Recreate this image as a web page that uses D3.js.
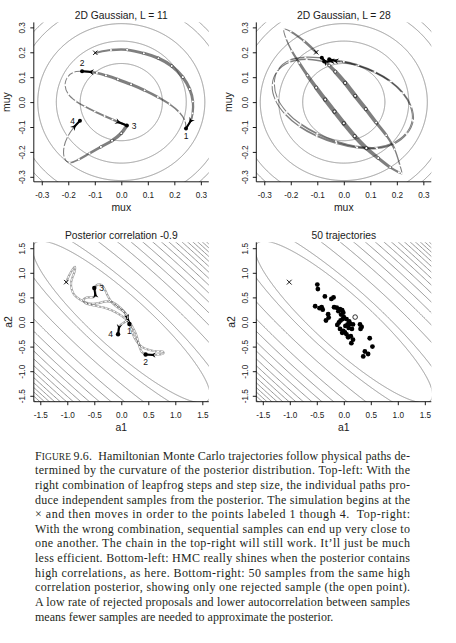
<!DOCTYPE html>
<html>
<head>
<meta charset="utf-8">
<script src="https://cdn.jsdelivr.net/npm/d3@7"></script>
<style>
  body { margin: 0; background: #fff; }
  svg { display: block; }
</style>
</head>
<body>
<svg id="fig" width="456" height="643"></svg>
<script>
// ---- data ----

var gaussTicks = [-0.3, -0.2, -0.1, 0.0, 0.1, 0.2, 0.3];
var corrTicks = [-1.5, -1.0, -0.5, 0.0, 0.5, 1.0, 1.5];

var titles = ["2D Gaussian, L = 11", "2D Gaussian, L = 28", "Posterior correlation -0.9", "50 trajectories"];

// radii of the contour circles in the top panels
var gaussRadii = [0.155, 0.245, 0.315, 0.40, 0.435];

// correlated posterior in the bottom panels: contour levels of the quadratic form
var corrRho = -0.9;
var corrLevels = [2.7, 4.3, 8.4, 12.9, 16.9, 20.9, 24.7, 28.3, 31.6, 34.8, 37.9, 40.8, 43.6, 46.3, 48.9, 51.4];

// top-left trajectories: [mux, muy, kinetic energy]
var tlPath1 = [[-0.098, 0.198, 0.5], [-0.039, 0.209, 0.7], [0.022, 0.210, 0.9], [0.085, 0.196, 1.05], [0.140, 0.176, 1.15], [0.190, 0.145, 1.2],
  [0.232, 0.100, 1.1], [0.258, 0.052, 0.9], [0.270, 0.002, 0.65], [0.269, -0.045, 0.45], [0.262, -0.075, 0.3], [0.244, -0.106, 0]];
var tlPath2 = [[0.244, -0.106, 0.05], [0.240, -0.075, 0.15], [0.218, -0.040, 0.35], [0.182, -0.008, 0.6], [0.138, 0.020, 0.85], [0.088, 0.047, 1.0],
  [0.037, 0.071, 1.05], [-0.013, 0.091, 0.95], [-0.058, 0.107, 0.8], [-0.092, 0.117, 0.6], [-0.114, 0.121, 0.5], [-0.148, 0.124, 0]];
var tlPath3 = [[-0.148, 0.124, 0.05], [-0.180, 0.120, 0.02], [-0.203, 0.100, 0.0], [-0.212, 0.068, 0.02], [-0.200, 0.032, 0.1], [-0.172, 0.004, 0.2],
  [-0.137, -0.018, 0.35], [-0.100, -0.038, 0.45], [-0.063, -0.056, 0.55], [-0.033, -0.070, 0.55], [-0.012, -0.080, 0.5], [0.021, -0.094, 0]];
var tlPath4 = [[0.021, -0.094, 1.2], [0.000, -0.125, 1.15], [-0.035, -0.155, 1.0], [-0.077, -0.180, 0.85], [-0.120, -0.206, 0.6], [-0.160, -0.230, 0.35],
  [-0.195, -0.243, 0.12], [-0.215, -0.222, 0.03], [-0.216, -0.180, 0.02], [-0.202, -0.138, 0.05], [-0.178, -0.100, 0.1], [-0.156, -0.075, 0]];
var tlLabels = ["1", "2", "3", "4"];

// top-right trajectories
var trPath1 = [[-0.104, 0.200, 0.8], [-0.150, 0.245, 0.45], [-0.200, 0.283, 0.15], [-0.226, 0.292, 0.05], [-0.218, 0.255, 0.2], [-0.196, 0.205, 0.6],
  [-0.168, 0.157, 1.0], [-0.137, 0.107, 1.35], [-0.104, 0.058, 1.6], [-0.070, 0.010, 1.75], [-0.035, -0.038, 1.8], [0.000, -0.085, 1.75],
  [0.041, -0.137, 1.6], [0.085, -0.185, 1.35], [0.130, -0.225, 1.0], [0.175, -0.262, 0.6], [0.208, -0.282, 0.2], [0.219, -0.286, 0.05],
  [0.212, -0.255, 0.2], [0.192, -0.190, 0.6], [0.160, -0.133, 1.0], [0.122, -0.082, 1.35], [0.083, -0.028, 1.6], [0.043, 0.025, 1.75],
  [0.005, 0.077, 1.6], [-0.032, 0.122, 1.3], [-0.055, 0.147, 0.9], [-0.068, 0.160, 0.5], [-0.083, 0.178, 0]];
var trPath2 = [[-0.083, 0.178, 0.2], [-0.145, 0.180, 0.15], [-0.205, 0.168, 0.08], [-0.248, 0.130, 0.03], [-0.262, 0.075, 0.02], [-0.250, 0.015, 0.05],
  [-0.215, -0.040, 0.15], [-0.163, -0.088, 0.3], [-0.100, -0.127, 0.45], [-0.030, -0.158, 0.45], [0.045, -0.178, 0.35], [0.120, -0.183, 0.2],
  [0.185, -0.165, 0.1], [0.235, -0.125, 0.03], [0.258, -0.072, 0.02], [0.250, -0.015, 0.05], [0.220, 0.038, 0.15], [0.172, 0.085, 0.3],
  [0.112, 0.122, 0.4], [0.048, 0.148, 0.4], [-0.010, 0.162, 0.3], [-0.045, 0.164, 0.25], [-0.074, 0.163, 0]];
var trPath3 = [[-0.074, 0.163, 0.2], [-0.140, 0.172, 0.15], [-0.205, 0.160, 0.08], [-0.252, 0.122, 0.03], [-0.270, 0.068, 0.02], [-0.258, 0.008, 0.05],
  [-0.222, -0.048, 0.15], [-0.168, -0.097, 0.3], [-0.102, -0.136, 0.45], [-0.028, -0.165, 0.45], [0.050, -0.183, 0.35], [0.125, -0.186, 0.2],
  [0.190, -0.168, 0.1], [0.238, -0.128, 0.03], [0.262, -0.075, 0.02], [0.255, -0.018, 0.05], [0.225, 0.036, 0.15], [0.178, 0.083, 0.3],
  [0.118, 0.121, 0.4], [0.055, 0.148, 0.4], [0.000, 0.162, 0.3], [-0.030, 0.166, 0.25], [-0.055, 0.172, 0]];

// bottom-left trajectories: [a1, a2]
var blPath1 = [[-1.02, 0.81], [-0.99, 0.89], [-0.95, 0.98], [-0.90, 1.07], [-0.86, 1.12], [-0.86, 1.04], [-0.90, 0.92], [-0.93, 0.80],
  [-0.92, 0.67], [-0.87, 0.55], [-0.77, 0.46], [-0.64, 0.39], [-0.52, 0.37], [-0.40, 0.39], [-0.28, 0.42], [-0.16, 0.40], [-0.06, 0.33],
  [0.03, 0.24], [0.08, 0.16], [0.11, 0.10], [0.15, -0.04]];
var blPath2 = [[0.15, -0.04], [0.18, -0.13], [0.21, -0.23], [0.25, -0.33], [0.31, -0.43], [0.39, -0.51], [0.49, -0.56], [0.60, -0.59], [0.70, -0.60],
  [0.77, -0.60], [0.78, -0.64], [0.70, -0.66], [0.59, -0.67], [0.45, -0.66]];
var blPath3 = [[0.45, -0.66], [0.38, -0.61], [0.34, -0.51], [0.31, -0.39], [0.28, -0.27], [0.23, -0.15], [0.16, -0.02], [0.06, 0.08], [-0.06, 0.17],
  [-0.18, 0.24], [-0.31, 0.29], [-0.44, 0.32], [-0.57, 0.35], [-0.67, 0.39], [-0.70, 0.45], [-0.63, 0.50], [-0.53, 0.50], [-0.48, 0.54], [-0.50, 0.69]];
var blPath4 = [[-0.50, 0.69], [-0.44, 0.76], [-0.36, 0.75], [-0.30, 0.65], [-0.25, 0.53], [-0.19, 0.42], [-0.11, 0.33], [-0.02, 0.26], [0.07, 0.19],
  [0.12, 0.10], [0.09, 0.02], [0.02, -0.03], [-0.04, -0.10], [-0.06, -0.25]];
var blLabels = ["1", "2", "3", "4"];

// bottom-right: start and the 50 samples (one rejected)
var brStart = [-1.01, 0.81];
var brSamples = [[-0.49, 0.76], [-0.48, 0.67], [-0.35, 0.52], [-0.23, 0.47], [-0.19, 0.50], [-0.53, 0.32], [-0.41, 0.30], [-0.39, 0.25],
  [-0.18, 0.30], [-0.13, 0.29], [-0.07, 0.26], [-0.03, 0.24], [-0.01, 0.19], [-0.29, 0.16], [-0.28, 0.09], [-0.33, 0.03], [-0.05, 0.15],
  [0.00, 0.10], [0.05, 0.06], [-0.09, -0.01], [-0.06, 0.03], [0.07, -0.05], [0.12, -0.04], [0.17, -0.05], [0.30, -0.05], [0.31, -0.14],
  [0.33, -0.10], [-0.07, -0.14], [-0.01, -0.18], [0.09, -0.12], [0.15, -0.14], [-0.03, -0.22], [0.05, -0.25], [0.02, -0.21], [0.08, -0.31],
  [0.13, -0.29], [0.17, -0.36], [0.14, -0.43], [0.48, -0.33], [0.53, -0.50], [0.39, -0.60], [0.45, -0.65], [0.36, -0.70], [-0.10, 0.22],
  [0.10, 0.01], [-0.12, -0.06], [-0.45, 0.28], [0.03, -0.08], [-0.02, 0.06]];
var brRejected = [[0.21, 0.10]];

var captionLines = [
  "9.6.  Hamiltonian Monte Carlo trajectories follow physical paths de-",
  "termined by the curvature of the posterior distribution. Top-left: With the",
  "right combination of leapfrog steps and step size, the individual paths pro-",
  "duce independent samples from the posterior. The simulation begins at the",
  "\u00d7 and then moves in order to the points labeled 1 though 4.  Top-right:",
  "With the wrong combination, sequential samples can end up very close to",
  "one another. The chain in the top-right will still work. It\u2019ll just be much",
  "less efficient. Bottom-left: HMC really shines when the posterior contains",
  "high correlations, as here. Bottom-right: 50 samples from the same high",
  "correlation posterior, showing only one rejected sample (the open point).",
  "A low rate of rejected proposals and lower autocorrelation between samples",
  "means fewer samples are needed to approximate the posterior."
];

// ---- drawing ----

var svg = d3.select("#fig");
var sans = "'Liberation Sans', Arial, Helvetica, sans-serif";
var pw = 175, ph = 159.4;
var pathCol = "rgba(0,0,0,0.5)";

var panels = [
  { x0: 33.8, y0: 22.4, xd: [-0.33, 0.33], yd: [-0.32, 0.32], ticks: gaussTicks, xlab: "mux", ylab: "muy", title: titles[0] },
  { x0: 256.3, y0: 22.4, xd: [-0.33, 0.33], yd: [-0.32, 0.32], ticks: gaussTicks, xlab: "mux", ylab: "muy", title: titles[1] },
  { x0: 33.8, y0: 242.3, xd: [-1.62, 1.62], yd: [-1.62, 1.62], ticks: corrTicks, xlab: "a1", ylab: "a2", title: titles[2] },
  { x0: 256.3, y0: 242.3, xd: [-1.62, 1.62], yd: [-1.62, 1.62], ticks: corrTicks, xlab: "a1", ylab: "a2", title: titles[3] }
];

panels.forEach(function(p, k) {
  p.x = d3.scaleLinear().domain(p.xd).range([p.x0, p.x0 + pw]);
  p.y = d3.scaleLinear().domain(p.yd).range([p.y0 + ph, p.y0]);
  p.g = svg.append("g");
  svg.append("clipPath").attr("id", "clip" + k)
    .append("rect").attr("x", p.x0).attr("y", p.y0).attr("width", pw).attr("height", ph);
  p.clip = p.g.append("g").attr("clip-path", "url(#clip" + k + ")");
});

// contour circles of the round gaussian
var angles = d3.range(0, 2 * Math.PI + 0.001, Math.PI / 720);
[panels[0], panels[1]].forEach(function(p) {
  var line = d3.line().x(function(d) { return p.x(d[0]); }).y(function(d) { return p.y(d[1]); });
  p.clip.selectAll("path.ctr")
    .data(gaussRadii)
    .enter()
    .append("path")
    .attr("class", "ctr")
    .attr("d", function(r) {
      return line(angles.map(function(t) { return [r * Math.cos(t), r * Math.sin(t)]; }));
    })
    .attr("fill", "none")
    .attr("stroke", "#8a8a8a")
    .attr("stroke-width", 0.9);
});

// contour ellipses of the correlated posterior
var sr = Math.sqrt(1 - corrRho * corrRho);
[panels[2], panels[3]].forEach(function(p) {
  var line = d3.line().x(function(d) { return p.x(d[0]); }).y(function(d) { return p.y(d[1]); });
  p.clip.selectAll("path.ctr")
    .data(corrLevels)
    .enter()
    .append("path")
    .attr("class", "ctr")
    .attr("d", function(c) {
      var r = Math.sqrt(c);
      return line(angles.map(function(t) {
        return [r * Math.cos(t), r * (corrRho * Math.cos(t) + sr * Math.sin(t))];
      }));
    })
    .attr("fill", "none")
    .attr("stroke", "#8a8a8a")
    .attr("stroke-width", 0.9);
});

// smooth piece between pts[i] and pts[i+1] (catmull-rom as a cubic)
function segPath(pts, i) {
  var p0 = pts[Math.max(i - 1, 0)], p1 = pts[i], p2 = pts[i + 1], p3 = pts[Math.min(i + 2, pts.length - 1)];
  var c1 = [p1[0] + (p2[0] - p0[0]) / 6, p1[1] + (p2[1] - p0[1]) / 6];
  var c2 = [p2[0] - (p3[0] - p1[0]) / 6, p2[1] - (p3[1] - p1[1]) / 6];
  return "M" + p1 + "C" + c1 + " " + c2 + " " + p2;
}

function drawArrow(g, a, b, size) {
  var dx = b[0] - a[0], dy = b[1] - a[1];
  var len = Math.sqrt(dx * dx + dy * dy), ux = dx / len, uy = dy / len;
  var L = size, hw = size * 0.55;
  g.append("line")
    .attr("x1", a[0]).attr("y1", a[1]).attr("x2", b[0]).attr("y2", b[1])
    .attr("stroke", "#000").attr("stroke-width", 2);
  var tip = [a[0] + ux * L * 0.5, a[1] + uy * L * 0.5];
  var bk = [a[0] - ux * L * 0.5, a[1] - uy * L * 0.5];
  var notch = [a[0] - ux * L * 0.15, a[1] - uy * L * 0.15];
  g.append("path")
    .attr("d", "M" + tip + "L" + [bk[0] - uy * hw, bk[1] + ux * hw] + "L" + notch + "L" + [bk[0] + uy * hw, bk[1] - ux * hw] + "Z")
    .attr("fill", "#000");
}

// a leapfrog trajectory, line width from kinetic energy, white dots at steps
function drawTraj(p, path) {
  var pts = path.map(function(d) { return [p.x(d[0]), p.y(d[1])]; });
  p.g.selectAll(null)
    .data(d3.range(pts.length - 1))
    .enter()
    .append("path")
    .attr("d", function(i) { return segPath(pts, i); })
    .attr("fill", "none")
    .attr("stroke", pathCol)
    .attr("stroke-linecap", "round")
    .attr("stroke-width", function(i) { return 1 + 2 * path[i][2]; });
  p.g.selectAll(null)
    .data(pts.slice(1, pts.length - 1))
    .enter()
    .append("circle")
    .attr("cx", function(d) { return d[0]; })
    .attr("cy", function(d) { return d[1]; })
    .attr("r", 1.1)
    .attr("fill", "#fff");
  drawArrow(p.g, pts[pts.length - 2], pts[pts.length - 1], 5.5);
  return pts;
}

// smooth dashed-looking trajectory for the correlated posterior
function drawWiggle(p, path) {
  var pts = path.map(function(d) { return [p.x(d[0]), p.y(d[1])]; });
  var line = d3.line().curve(d3.curveCatmullRom);
  p.g.append("path").attr("d", line(pts)).attr("fill", "none")
    .attr("stroke", "rgba(0,0,0,0.36)").attr("stroke-width", 2.2).attr("stroke-linecap", "round");
  p.g.append("path").attr("d", line(pts)).attr("fill", "none")
    .attr("stroke", "#fff").attr("stroke-width", 1.0).attr("stroke-dasharray", "2.6,1.6");
  drawArrow(p.g, pts[pts.length - 2], pts[pts.length - 1], 5);
  return pts;
}

function drawCross(g, c, h) {
  g.append("path")
    .attr("d", "M" + (c[0] - h) + "," + (c[1] - h) + "L" + (c[0] + h) + "," + (c[1] + h) +
               "M" + (c[0] - h) + "," + (c[1] + h) + "L" + (c[0] + h) + "," + (c[1] - h))
    .attr("stroke", "#000").attr("stroke-width", 0.9);
}

function drawPoint(g, c, r) {
  g.append("circle").attr("cx", c[0]).attr("cy", c[1]).attr("r", r).attr("fill", "#000");
}

function drawLabel(g, c, txt, side) {
  var t = g.append("text").text(txt)
    .attr("font-family", sans).attr("font-size", 8.5).attr("fill", "#111");
  if (side === "below") t.attr("x", c[0]).attr("y", c[1] + 10.5).attr("text-anchor", "middle");
  if (side === "above") t.attr("x", c[0]).attr("y", c[1] - 5.5).attr("text-anchor", "middle");
  if (side === "right") t.attr("x", c[0] + 5).attr("y", c[1] + 3).attr("text-anchor", "start");
  if (side === "left") t.attr("x", c[0] - 5).attr("y", c[1] + 3).attr("text-anchor", "end");
}

// top-left
(function() {
  var p = panels[0];
  var sides = ["below", "above", "right", "left"];
  var ends = [tlPath1, tlPath2, tlPath3, tlPath4].map(function(path) {
    var pts = drawTraj(p, path);
    return pts[pts.length - 1];
  });
  drawCross(p.g, [p.x(tlPath1[0][0]), p.y(tlPath1[0][1])], 2.2);
  ends.forEach(function(c, i) {
    drawPoint(p.g, c, 2);
    drawLabel(p.g, c, tlLabels[i], sides[i]);
  });
})();

// top-right
(function() {
  var p = panels[1];
  var ends = [trPath2, trPath3, trPath1].map(function(path) {
    var pts = drawTraj(p, path);
    return pts[pts.length - 1];
  });
  drawCross(p.g, [p.x(trPath1[0][0]), p.y(trPath1[0][1])], 2.2);
  ends.forEach(function(c) { drawPoint(p.g, c, 2); });
})();

// bottom-left
(function() {
  var p = panels[2];
  var sides = ["below", "below", "right", "left"];
  var ends = [blPath1, blPath2, blPath3, blPath4].map(function(path) {
    var pts = drawWiggle(p, path);
    return pts[pts.length - 1];
  });
  drawCross(p.g, [p.x(blPath1[0][0]), p.y(blPath1[0][1])], 2.2);
  ends.forEach(function(c, i) {
    drawPoint(p.g, c, 2.2);
    drawLabel(p.g, c, blLabels[i], sides[i]);
  });
})();

// bottom-right
(function() {
  var p = panels[3];
  drawCross(p.g, [p.x(brStart[0]), p.y(brStart[1])], 2.4);
  p.g.selectAll(null)
    .data(brSamples)
    .enter()
    .append("circle")
    .attr("cx", function(d) { return p.x(d[0]); })
    .attr("cy", function(d) { return p.y(d[1]); })
    .attr("r", 2.4)
    .attr("fill", "#000");
  p.g.selectAll(null)
    .data(brRejected)
    .enter()
    .append("circle")
    .attr("cx", function(d) { return p.x(d[0]); })
    .attr("cy", function(d) { return p.y(d[1]); })
    .attr("r", 2.3)
    .attr("fill", "#fff")
    .attr("stroke", "#000")
    .attr("stroke-width", 0.8);
})();

// axes, box (bty = "l"), titles
var fmt = function(d) { return d.toFixed(1); };
panels.forEach(function(p, k) {
  var yb = p.y0 + ph;
  p.g.append("path")
    .attr("d", "M" + p.x0 + "," + p.y0 + "V" + yb + "H" + (p.x0 + pw))
    .attr("fill", "none").attr("stroke", "#000").attr("stroke-width", 0.9);

  var xa = p.g.append("g")
    .attr("transform", "translate(0," + yb + ")")
    .call(d3.axisBottom(p.x).tickValues(p.ticks).tickFormat(fmt).tickSize(3.5).tickPadding(7.2));
  var ya = p.g.append("g")
    .attr("transform", "translate(" + p.x0 + ",0)")
    .call(d3.axisLeft(p.y).tickValues(p.ticks).tickFormat(fmt).tickSize(3.5));
  [xa, ya].forEach(function(a) {
    a.select(".domain").remove();
    a.selectAll(".tick line").attr("stroke", "#000").attr("stroke-width", 0.9);
    a.selectAll(".tick text").attr("font-family", sans).attr("font-size", 8.2).attr("fill", "#1a1a1a");
  });
  ya.selectAll(".tick text")
    .attr("transform", "rotate(-90)")
    .attr("x", 0).attr("y", -8.8).attr("dy", 0)
    .attr("text-anchor", "middle");

  var cx = p.x0 + pw / 2;
  p.g.append("text").text(p.title)
    .attr("x", cx).attr("y", p.y0 - 3.6)
    .attr("text-anchor", "middle")
    .attr("font-family", sans).attr("font-size", 10.3).attr("fill", "#1a1a1a");
  p.g.append("text").text(p.xlab)
    .attr("x", cx).attr("y", yb + 29)
    .attr("text-anchor", "middle")
    .attr("font-family", sans).attr("font-size", 10.4).attr("fill", "#1a1a1a");
  var ly = k < 2 ? 24.3 : 21.5;
  p.g.append("text").text(p.ylab)
    .attr("transform", "translate(" + (p.x0 - ly) + "," + (p.y0 + ph / 2) + ") rotate(-90)")
    .attr("text-anchor", "middle")
    .attr("font-family", sans).attr("font-size", 10.4).attr("fill", "#1a1a1a");
});

// caption, justified
var serif = "'Liberation Serif', 'Times New Roman', serif";
var cap = svg.append("g").attr("font-family", serif).attr("font-size", 12).attr("fill", "#231f20");
captionLines.forEach(function(s, i) {
  var t = cap.append("text")
    .attr("x", 35)
    .attr("y", 459.6 + i * 14.64)
    .style("white-space", "pre");
  if (i === 0) {
    t.append("tspan").text("F");
    t.append("tspan").attr("font-size", 9.4).text("IGURE ");
  }
  t.append("tspan").text(s);
  if (i < captionLines.length - 1) {
    t.attr("textLength", 375).attr("lengthAdjust", "spacing");
  }
});
</script>
</body>
</html>
